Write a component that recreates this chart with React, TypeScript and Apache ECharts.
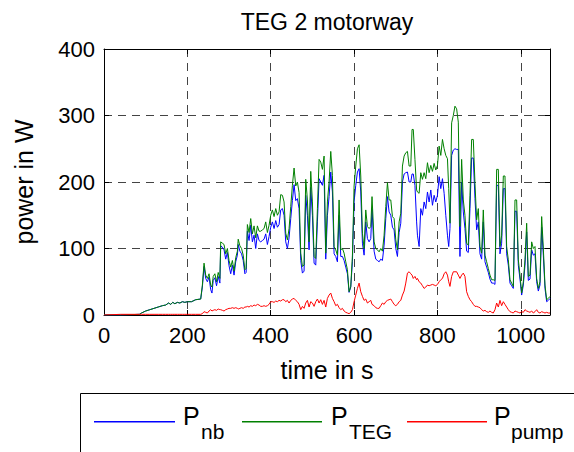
import React, { useEffect, useRef } from "react";
import * as echarts from "echarts";

const chartTitle = "TEG 2 motorway";
const xAxisName = "time in s";
const yAxisName = "power in W";
const legendBase = "P";
const legendSubs = ["nb", "TEG", "pump"];
const seriesColors = ["#0000ff", "#008000", "#ff0000"];

const timeS = [
  0, 40, 85, 90, 100, 110, 120, 130, 140, 148, 155, 160, 165, 170, 176, 182, 188, 194, 200, 210, 220, 232,
  236, 240, 244, 248, 252, 256, 259, 262, 266, 270, 274, 278, 280, 284, 288, 292, 296, 300,
  304, 308, 312, 316, 320, 322, 326, 330, 334, 338, 341, 344, 348, 352, 356, 360, 364, 368, 372, 376,
  380, 384, 388, 392, 396, 400, 404, 408, 412, 416, 420, 424, 428, 432, 436, 440, 444, 448, 452, 456,
  460, 464, 468, 472, 476, 480, 484, 488, 492, 496, 500, 504, 508, 512, 516, 520, 524, 528, 532, 536,
  540, 544, 548, 552, 556, 560, 564, 568, 572, 576, 580, 584, 588, 592, 596, 600, 604, 608, 612, 616,
  620, 624, 628, 632, 636, 640, 643, 648, 652, 656, 660, 664, 668, 672, 676, 680, 684, 688, 692, 696,
  700, 704, 708, 712, 716, 720, 724, 728, 732, 736, 739, 742, 746, 750, 752, 756, 760, 764, 768, 772,
  776, 780, 784, 788, 792, 796, 800, 804, 808, 812, 816, 820, 824, 827, 830, 834, 838, 842, 846, 850,
  854, 858, 862, 866, 870, 874, 878, 882, 886, 890, 894, 898, 902, 906, 910, 914, 918, 922, 926, 930,
  934, 938, 942, 946, 950, 954, 958, 962, 966, 970, 974, 978, 982, 986, 990, 994, 998, 1002, 1006, 1010,
  1014, 1018, 1022, 1026, 1030, 1034, 1038, 1042, 1046, 1050, 1054, 1058, 1062, 1066, 1070,
];

const pTeg = [
  0, 0, 1, 3, 6, 8, 10, 12, 14, 15, 18, 16, 19, 17, 19, 18, 20, 19, 20, 20, 23, 24,
  45, 78, 60, 55, 62, 45, 42, 58, 62, 50, 64, 55, 110, 108, 106, 92, 100, 82,
  72, 82, 66, 86, 96, 114, 104, 100, 90, 68, 70, 136, 124, 145, 122, 134, 116, 134, 126, 126,
  128, 130, 140, 124, 135, 150, 158, 148, 160, 150, 155, 181, 180, 170, 123, 113, 130, 163, 195, 221,
  194, 200, 184, 93, 73, 75, 204, 173, 110, 216, 170, 88, 85, 160, 234, 230, 219, 239, 93, 170,
  200, 246, 210, 103, 98, 90, 173, 98, 100, 93, 80, 68, 35, 43, 90, 194, 224, 250, 256, 209,
  123, 100, 158, 133, 130, 133, 178, 110, 100, 98, 95, 100, 96, 120, 163, 199, 173, 173, 148, 145,
  113, 98, 140, 153, 224, 239, 244, 246, 224, 224, 279, 279, 234, 188, 185, 183, 214, 204, 214, 205,
  229, 214, 225, 216, 228, 218, 225, 254, 240, 264, 250, 240, 235, 190, 138, 289, 300, 314, 310, 290,
  133, 234, 173, 150, 108, 105, 180, 264, 264, 198, 143, 160, 103, 93, 158, 90, 80, 70, 60, 53,
  53, 52, 219, 219, 103, 120, 209, 209, 103, 83, 53, 48, 43, 173, 173, 83, 60, 33, 50, 83,
  138, 58, 60, 110, 100, 103, 55, 40, 50, 148, 100, 45, 23, 25, 28,
];

const pNb = [
  0, 0, 1, 3, 6, 8, 10, 12, 14, 15, 18, 16, 19, 17, 19, 18, 20, 19, 20, 20, 23, 24,
  42, 73, 55, 50, 57, 38, 33, 52, 56, 44, 58, 48, 104, 102, 98, 84, 94, 74,
  62, 75, 60, 80, 90, 106, 96, 92, 82, 62, 64, 126, 112, 135, 110, 120, 100, 122, 112, 110,
  112, 114, 122, 106, 118, 132, 140, 130, 142, 132, 136, 158, 160, 150, 110, 100, 116, 145, 172, 196,
  172, 175, 160, 82, 63, 66, 180, 150, 98, 192, 150, 78, 75, 140, 205, 200, 195, 210, 84, 150,
  178, 215, 185, 92, 88, 80, 150, 88, 88, 82, 72, 62, 34, 42, 80, 170, 195, 215, 220, 185,
  108, 90, 140, 115, 110, 115, 160, 96, 84, 82, 80, 84, 82, 105, 145, 178, 155, 150, 132, 128,
  100, 88, 124, 138, 200, 212, 214, 215, 200, 200, 212, 212, 195, 140, 120, 103, 160, 150, 170, 160,
  185, 170, 188, 165, 180, 170, 180, 208, 190, 205, 183, 150, 120, 103, 130, 240, 248, 250, 249, 249,
  88, 200, 155, 130, 96, 94, 160, 236, 236, 175, 128, 140, 92, 84, 140, 80, 72, 64, 54, 48,
  48, 46, 195, 195, 92, 108, 190, 190, 92, 75, 48, 44, 40, 156, 156, 75, 54, 30, 45, 75,
  125, 52, 54, 98, 90, 92, 50, 36, 45, 132, 90, 40, 20, 22, 25,
];

const pPump = [
  0, 1, 1, 1, 1, 1, 1, 1, 1, 1, 1, 1, 1, 1, 1, 1, 1, 1, 1, 1, 1, 1,
  2, 5, 4, 3, 6, 8, 6, 7, 8, 7, 9, 8, 8, 7, 6, 8, 9, 10,
  10, 11, 10, 11, 10, 9, 10, 11, 10, 12, 12, 13, 12, 14, 13, 15, 14, 16, 15, 13,
  13, 14, 13, 14, 16, 20, 20, 19, 21, 20, 22, 21, 23, 23, 20, 22, 18, 22, 24, 25,
  22, 20, 16, 8, 13, 10, 18, 22, 12, 20, 18, 13, 20, 24, 18, 23, 16, 22, 12, 25,
  30, 33, 25, 20, 14, 16, 11, 8, 10, 6, 4, 3, 2, 4, 8, 20, 30, 40, 48, 35,
  28, 22, 24, 18, 20, 22, 16, 14, 11, 10, 10, 14, 18, 16, 20, 22, 23, 24, 20, 16,
  14, 16, 20, 22, 30, 36, 48, 63, 65, 62, 60, 55, 58, 53, 55, 50, 48, 44, 40, 42,
  45, 44, 45, 46, 45, 44, 46, 50, 53, 55, 62, 65, 60, 50, 43, 58, 65, 65, 65, 60,
  55, 60, 63, 58, 35, 28, 23, 20, 16, 13, 13, 12, 11, 8, 6, 7, 5, 4, 6, 4,
  3, 8, 18, 12, 22, 14, 20, 16, 12, 8, 5, 4, 3, 6, 5, 4, 3, 5, 4, 8,
  6, 5, 4, 6, 3, 5, 8, 4, 3, 5, 4, 3, 4, 3, 3,
];

const FONT = '"Liberation Sans", Arial, sans-serif';

export default function App() {
  const ref = useRef<HTMLDivElement>(null);
  useEffect(() => {
    if (!ref.current) return;
    const chart = echarts.init(ref.current, undefined, { renderer: "svg" });
    const seriesValues = [pNb, pTeg, pPump];
    const pairs = (arr: number[]) => timeS.map((t, i) => [t, arr[i]]);

    const gridLine = { show: true, lineStyle: { color: "#444", type: [8, 6], width: 1 } };
    const axisLine = { show: true, onZero: false, lineStyle: { color: "#000", width: 1 } };
    const tick = { show: true, inside: true, length: 5, lineStyle: { color: "#000" } };

    const legendLines = [
      [94, 175],
      [242, 322],
      [407, 487],
    ];
    const legendP = [183, 331, 494];
    const legendSubX = [201, 349, 511];
    const graphic: any[] = [
      {
        type: "rect",
        z: 100,
        shape: { x: 80.5, y: 393.5, width: 560, height: 100 },
        style: { fill: "#fff", stroke: "#000", lineWidth: 1 },
      },
    ];
    legendSubs.forEach((sub, i) => {
      graphic.push({
        type: "rect",
        z: 101,
        shape: { x: legendLines[i][0], y: 421, width: legendLines[i][1] - legendLines[i][0], height: 1.4 },
        style: { fill: seriesColors[i] },
      });
      graphic.push({
        type: "text",
        z: 101,
        x: legendP[i],
        y: 416,
        style: { text: legendBase, font: `25px ${FONT}`, fill: "#000", verticalAlign: "middle", align: "left" },
      });
      graphic.push({
        type: "text",
        z: 101,
        x: legendSubX[i],
        y: 431,
        style: { text: sub, font: `21px ${FONT}`, fill: "#000", verticalAlign: "middle", align: "left" },
      });
    });

    chart.setOption({
      animation: false,
      backgroundColor: "#fff",
      title: {
        text: chartTitle,
        left: 327,
        top: 10,
        padding: 0,
        textAlign: "center",
        textStyle: { fontFamily: FONT, fontSize: 23, fontWeight: "normal", color: "#000" },
      },
      grid: { left: 104, right: 24, top: 49, bottom: 137, containLabel: false },
      xAxis: [
        {
          type: "value",
          min: 0,
          max: 1070,
          interval: 200,
          name: xAxisName,
          nameLocation: "middle",
          nameGap: 42,
          nameTextStyle: { fontFamily: FONT, fontSize: 25, color: "#000" },
          axisLine,
          axisTick: tick,
          splitLine: gridLine,
          axisLabel: {
            fontFamily: FONT,
            fontSize: 22,
            color: "#000",
            margin: 9,
            showMaxLabel: false,
            formatter: (v: number) => (v % 200 === 0 ? String(v) : ""),
          },
        },
        {
          type: "value",
          position: "top",
          min: 0,
          max: 1070,
          interval: 200,
          axisLine,
          axisTick: tick,
          splitLine: { show: false },
          axisLabel: { show: false },
        },
      ],
      yAxis: [
        {
          type: "value",
          min: 0,
          max: 400,
          interval: 100,
          name: yAxisName,
          nameLocation: "middle",
          nameGap: 68,
          nameTextStyle: { fontFamily: FONT, fontSize: 25, color: "#000" },
          axisLine,
          axisTick: tick,
          splitLine: gridLine,
          axisLabel: { fontFamily: FONT, fontSize: 22, color: "#000", margin: 9 },
        },
        {
          type: "value",
          position: "right",
          min: 0,
          max: 400,
          interval: 100,
          axisLine,
          axisTick: tick,
          splitLine: { show: false },
          axisLabel: { show: false },
        },
      ],
      series: seriesValues.map((arr, i) => ({
        name: legendBase + legendSubs[i],
        type: "line",
        data: pairs(arr),
        showSymbol: false,
        silent: true,
        lineStyle: { color: seriesColors[i], width: 1 },
        itemStyle: { color: seriesColors[i] },
        z: 2 + i,
      })),
      graphic,
    });
    return () => chart.dispose();
  }, []);
  return (
    <div
      ref={ref}
      style={{ position: "fixed", left: 0, top: 0, width: 574, height: 452, background: "#fff" }}
    />
  );
}
